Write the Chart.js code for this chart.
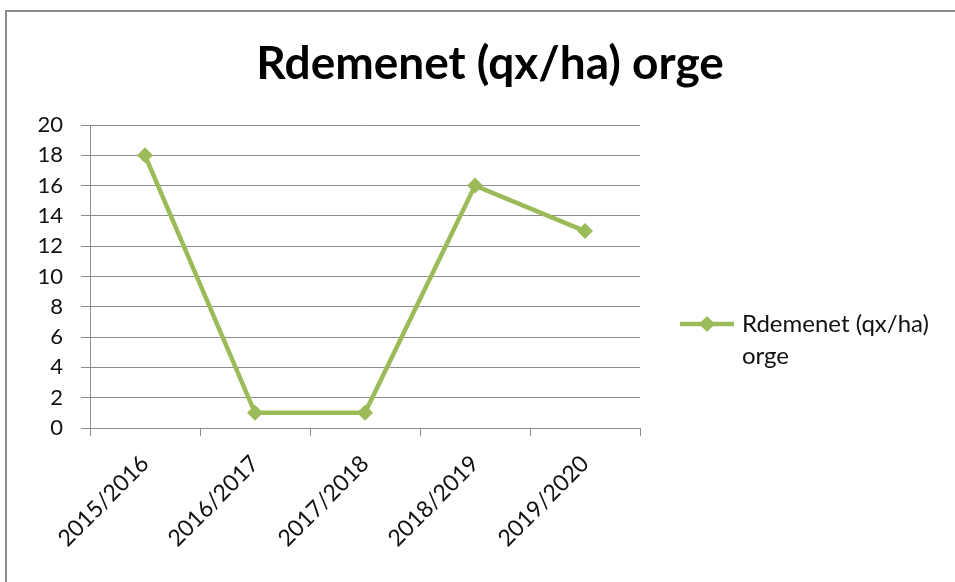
<!DOCTYPE html>
<html>
<head>
<meta charset="utf-8">
<script src="https://cdn.jsdelivr.net/npm/chart.js@4"></script>
<style>
html, body { margin: 0; padding: 0; overflow: hidden; background: #fff; }
#frame { position: absolute; left: 5px; top: 10px; width: 1000px; height: 620px; border-left: 2px solid #8c8c8c; border-top: 2px solid #8c8c8c; }
#wrap { position: absolute; left: 0; top: 0; width: 955px; height: 582px; }
</style>
</head>
<body>
<div id="frame"></div>
<div id="wrap"><canvas id="chart"></canvas></div>
<script>
// data
const seasons = ['2015/2016', '2016/2017', '2017/2018', '2018/2019', '2019/2020'];
const yields = [18, 1, 1, 16, 13];
const chartTitle = 'Rdemenet (qx/ha) orge';
const seriesName = ['Rdemenet (qx/ha)', 'orge'];
const yTicks = { min: 0, max: 20, step: 2 };

const green = '#9bbb59';
const gridGray = '#8c8c8c';
const fontFamily = 'Lato, "Open Sans", sans-serif';

// title centred on the whole picture + legend on the right (Excel style)
const titleAndLegend = {
    id: 'titleAndLegend',
    afterDraw(chart) {
        const ctx = chart.ctx;
        const area = chart.chartArea;
        const ds = chart.data.datasets[0];
        ctx.save();

        ctx.fillStyle = '#000';
        ctx.font = 'bold 46px ' + fontFamily;
        ctx.textAlign = 'center';
        ctx.textBaseline = 'middle';
        ctx.fillText(chartTitle, 490, 64);

        const x0 = area.right + 40;
        const x1 = x0 + 54;
        const y = 324;
        ctx.strokeStyle = ds.borderColor;
        ctx.lineWidth = ds.borderWidth;
        ctx.beginPath();
        ctx.moveTo(x0, y);
        ctx.lineTo(x1, y);
        ctx.stroke();
        const cx = (x0 + x1) / 2, r = 8;
        ctx.fillStyle = ds.borderColor;
        ctx.beginPath();
        ctx.moveTo(cx, y - r);
        ctx.lineTo(cx + r, y);
        ctx.lineTo(cx, y + r);
        ctx.lineTo(cx - r, y);
        ctx.closePath();
        ctx.fill();

        ctx.fillStyle = '#111';
        ctx.font = '24px ' + fontFamily;
        ctx.textBaseline = 'middle';
        ctx.textAlign = 'left';
        seriesName.forEach((t, i) => ctx.fillText(t, x1 + 8, y + i * 32));
        ctx.restore();
    }
};

const ctx = document.getElementById('chart');
const chart = new Chart(ctx, {
    type: 'line',
    data: {
        labels: seasons,
        datasets: [
            {
                label: seriesName.join(' '),
                data: yields,
                borderColor: green,
                backgroundColor: green,
                borderWidth: 4.5,
                pointStyle: 'rectRot',
                pointRadius: 8,
                pointBackgroundColor: green,
                pointBorderWidth: 0,
                fill: false,
                tension: 0
            }
        ]
    },
    plugins: [titleAndLegend],
    options: {
        responsive: true,
        maintainAspectRatio: false,
        animation: false,
        layout: { padding: { left: 0, right: 315, top: 125, bottom: 0 } },
        scales: {
            x: {
                offset: true,
                border: { color: gridGray, width: 1 },
                grid: { offset: true, drawOnChartArea: false, drawTicks: true, tickLength: 8, color: gridGray },
                ticks: {
                    minRotation: 45,
                    maxRotation: 45,
                    padding: 14,
                    color: '#111',
                    font: { family: fontFamily, size: 23 }
                },
                afterFit(scale) { scale.height = 154; }
            },
            y: {
                min: yTicks.min,
                max: yTicks.max,
                border: { color: gridGray, width: 1 },
                grid: { color: gridGray, tickLength: 9 },
                ticks: {
                    stepSize: yTicks.step,
                    padding: 18,
                    color: '#111',
                    font: { family: fontFamily, size: 22 }
                },
                afterFit(scale) { scale.width = 90; }
            }
        },
        plugins: {
            legend: { display: false },
            tooltip: { enabled: false },
            title: { display: false }
        }
    }
});
</script>
</body>
</html>
